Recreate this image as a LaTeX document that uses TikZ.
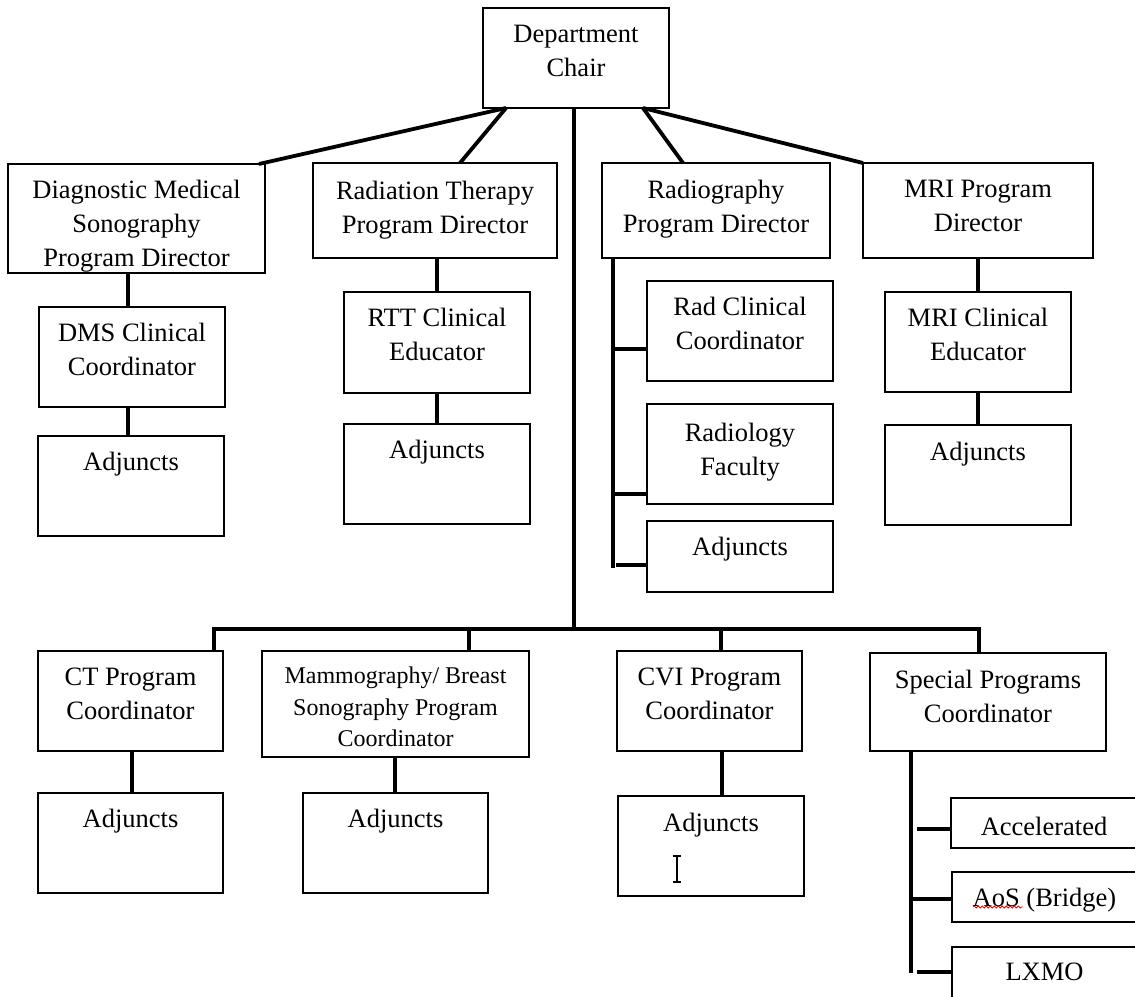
\documentclass[tikz,border=0pt]{standalone}
\usepackage{fontspec}
\setmainfont{Liberation Serif}
\usetikzlibrary{calc,decorations.pathmorphing}
% #1 text style, #2 name, #3 x1, #4 y1, #5 x2, #6 y2, #7 text top, #8 text
\newcommand\orgbox[8][]{%
  \node[obox, minimum width={(#5)-(#3)}, minimum height={(#6)-(#4)}] (#2) at ({((#3)+(#5))/2},{((#4)+(#6))/2}) {};
  \node[otext,#1,anchor=north] (#2-t) at ($(#2.north)+(0,{(#7)-(#4)})$) {#8};%
}
\begin{document}
\begin{tikzpicture}[x=1pt,y=-1pt,
  obox/.style={draw, line width=1.3pt, inner sep=0pt, outer sep=0pt},
  otext/.style={font=\fontsize{26.5}{34}\selectfont, align=center, inner sep=0pt, outer sep=0pt},
  smalltext/.style={font=\fontsize{24}{31.5}\selectfont},
  conn/.style={line width=3.8pt}]
\useasboundingbox (0,0) rectangle (1135,996);
\clip (0,0) rectangle (1135,996);

% top level
\orgbox{chair}{483}{8}{669}{108}{25}{Department\\Chair}
\orgbox{dms}{8}{164}{265}{273}{180}{Diagnostic Medical\\Sonography\\Program Director}
\orgbox{rt}{313}{163}{557}{258}{181}{Radiation Therapy\\Program Director}
\orgbox{rad}{602}{163}{830}{258}{180}{Radiography\\Program Director}
\orgbox{mri}{863}{163}{1093}{258}{180}{MRI Program\\Director}

% second level
\orgbox{dmsc}{39}{307}{225}{407}{323}{DMS Clinical\\Coordinator}
\orgbox{dmsa}{38}{436}{224}{536}{452}{Adjuncts}
\orgbox{rttc}{344}{292}{530}{393}{308}{RTT Clinical\\Educator}
\orgbox{rtta}{344}{424}{530}{524}{440}{Adjuncts}
\orgbox{radc}{647}{281}{833}{381}{297}{Rad Clinical\\Coordinator}
\orgbox{radf}{647}{404}{833}{504}{423}{Radiology\\Faculty}
\orgbox{rada}{647}{521}{833}{592}{537}{Adjuncts}
\orgbox{mric}{885}{292}{1071}{392}{308}{MRI Clinical\\Educator}
\orgbox{mria}{885}{425}{1071}{525}{442}{Adjuncts}

% bottom row
\orgbox{ct}{38}{651}{223}{751}{668}{CT Program\\Coordinator}
\orgbox[smalltext]{mam}{262}{651}{529}{757}{667}{Mammography/ Breast\\Sonography Program\\Coordinator}
\orgbox{cvi}{617}{651}{802}{751}{668}{CVI Program\\Coordinator}
\orgbox{spc}{870}{653}{1106}{751}{670}{Special Programs\\Coordinator}
\orgbox{cta}{38}{793}{223}{893}{809}{Adjuncts}
\orgbox{mama}{303}{793}{488}{893}{809}{Adjuncts}
\orgbox{cvia}{618}{796}{804}{896}{813}{Adjuncts}
\orgbox{acc}{951}{798}{1137}{848}{817}{Accelerated}
\orgbox{aos}{952}{872}{1137}{922}{888}{AoS (Bridge)}
\orgbox{lxmo}{952}{947}{1137}{1010}{963}{LXMO}

% connectors from the chair
\draw[conn] ($(chair.south west)+(23,0)$) -- ($(dms.north east)+(-6,0)$);
\draw[conn] ($(chair.south west)+(23,0)$) -- ($(rt.north west)+(147,0)$);
\draw[conn] ($(chair.south west)+(160,0)$) -- ($(rad.north west)+(81,0)$);
\draw[conn] ($(chair.south west)+(160,0)$) -- (mri.north west);
\coordinate (busc) at (574,629);
\draw[conn] ($(chair.south west)+(91,0)$) -- (busc);
\draw[conn] ($(ct.north west)+(176,0)$) |- ($(spc.north west)+(109,-24)$) -- ($(spc.north west)+(109,0)$);
\draw[conn] ($(mam.north west)+(207,0)$) -- +(0,-22);
\draw[conn] ($(cvi.north west)+(104,0)$) -- +(0,-22);

% DMS column
\draw[conn] ($(dms.south west)+(120,0)$) -- ($(dmsc.north west)+(89,0)$);
\draw[conn] ($(dmsc.south west)+(89,0)$) -- ($(dmsa.north west)+(90,0)$);
% RT column
\draw[conn] (rttc.north |- rt.south) -- (rttc.north);
\draw[conn] (rttc.south) -- (rtta.north);
% MRI column
\draw[conn] (mri.south) -- (mric.north);
\draw[conn] (mric.south) -- (mria.north);
% Radiography column
\draw[conn] ($(rad.south west)+(11,0)$) -- ($(rad.south west)+(11,310)$);
\draw[conn] ($(radc.south west)+(0,-32)$) -- +(-34,0);
\draw[conn] ($(radf.south west)+(0,-10)$) -- +(-34,0);
\draw[conn] ($(rada.south west)+(0,-27)$) -- +(-31,0);

% bottom columns
\draw[conn] ($(ct.south west)+(94,0)$) -- ($(cta.north west)+(94,0)$);
\draw[conn] ($(mam.south west)+(133,0)$) -- ($(mama.north west)+(92,0)$);
\draw[conn] ($(cvi.south west)+(105,0)$) -- ($(cvia.north west)+(104,0)$);
\draw[conn] ($(spc.south west)+(41,0)$) -- ($(spc.south west)+(41,222)$);
\draw[conn] ($(acc.west)+(0,6)$) -- +(-34,0);
\draw[conn] ($(aos.west)+(0,2)$) -- +(-41,0);
\draw[conn] ($(lxmo.north west)+(0,25)$) -- +(-35,0);

% spell-check underline and text cursor
\draw[red, line width=0.8pt, decorate, decoration={snake, amplitude=1pt, segment length=4pt}] (973,907) -- (1023,907);
\draw[line width=1.2pt] (673,856) -- (681,856) (677,856) -- (677,882) (673,882) -- (681,882);
\end{tikzpicture}
\end{document}
